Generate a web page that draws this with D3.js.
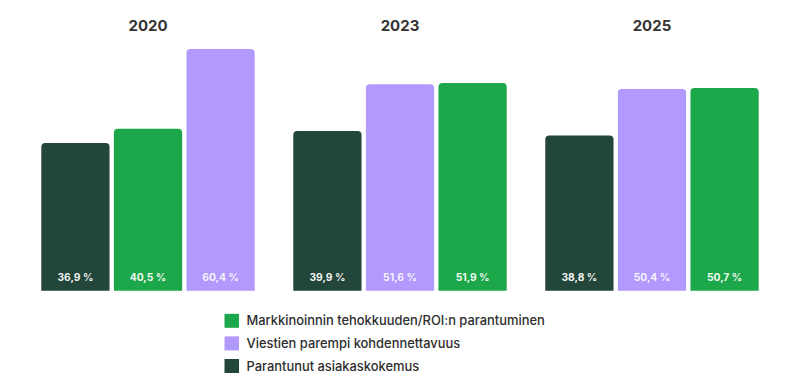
<!DOCTYPE html>
<html>
<head>
<meta charset="utf-8">
<script src="https://cdn.jsdelivr.net/npm/d3@7"></script>
<style>
html,body{margin:0;padding:0;background:#fff;}
svg{display:block;}
</style>
</head>
<body>
<svg id="chart" width="800" height="384"></svg>
<script>
const years = ["2020", "2023", "2025"];
const seriesNames = [
  "Markkinoinnin tehokkuuden/ROI:n parantuminen",
  "Viestien parempi kohdennettavuus",
  "Parantunut asiakaskokemus"
];
const seriesColors = ["#1ca84a", "#b199fd", "#22463a"];
const roiValues = [40.5, 51.9, 50.7];
const targetingValues = [60.4, 51.6, 50.4];
const experienceValues = [36.9, 39.9, 38.8];
const seriesValues = [roiValues, targetingValues, experienceValues];

const svg = d3.select("#chart");
const font = "Inter, 'Noto Sans', sans-serif";

const x0 = d3.scaleBand().domain(years).range([41.3, 758.7]).paddingInner(0.153).paddingOuter(0);
const x1 = d3.scaleBand().domain([0, 1, 2]).range([0, x0.bandwidth()]).paddingInner(0.06).paddingOuter(0);
const y = d3.scaleLinear().domain([0, 60]).range([290.7, 290.7 - 240]);

function topRounded(x, yTop, w, h, r) {
  const p = d3.path();
  p.moveTo(x, yTop + h);
  p.lineTo(x, yTop + r);
  p.arcTo(x, yTop, x + r, yTop, r);
  p.lineTo(x + w - r, yTop);
  p.arcTo(x + w, yTop, x + w, yTop + r, r);
  p.lineTo(x + w, yTop + h);
  p.closePath();
  return p.toString();
}

const fmt = v => d3.format(".1f")(v).replace(".", ",") + " %";

years.forEach((yr, gi) => {
  const g = svg.append("g").attr("transform", `translate(${x0(yr)},0)`);
  g.append("text")
    .attr("x", x0.bandwidth() / 2)
    .attr("y", 31)
    .attr("text-anchor", "middle")
    .attr("font-family", font)
    .attr("font-weight", 700)
    .attr("font-size", 15)
    .attr("fill", "#333333")
    .text(yr);
  const items = seriesValues.map((vals, si) => ({ si, v: vals[gi] }))
    .sort((a, b) => a.v - b.v);
  items.forEach((d, pos) => {
    const bx = x1(pos);
    const bw = x1.bandwidth();
    const top = y(d.v);
    g.append("path")
      .attr("d", topRounded(bx, top, bw, y(0) - top, 4))
      .attr("fill", seriesColors[d.si]);
    g.append("text")
      .attr("x", bx + bw / 2)
      .attr("y", 280.5)
      .attr("text-anchor", "middle")
      .attr("font-family", font)
      .attr("font-weight", 700)
      .attr("font-size", 10.3)
      .attr("fill", "#ffffff")
      .attr("fill-opacity", d.si === 1 ? 0.9 : 0.95)
      .text(fmt(d.v));
  });
});

const legend = svg.append("g").attr("transform", "translate(224.5,313.8)");
seriesNames.forEach((name, i) => {
  const row = legend.append("g").attr("transform", `translate(0,${i * 22.6})`);
  row.append("rect").attr("width", 14.5).attr("height", 14).attr("fill", seriesColors[i]);
  row.append("text")
    .attr("x", 22)
    .attr("y", 11.5)
    .attr("font-family", font)
    .attr("font-weight", 500)
    .attr("font-size", 12.9)
    .attr("fill", "#2e2e2e")
    .text(name);
});
</script>
</body>
</html>
